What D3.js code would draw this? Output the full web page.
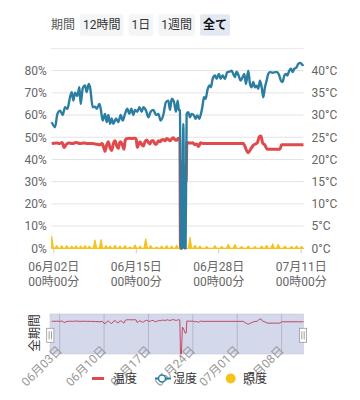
<!DOCTYPE html>
<html>
<head>
<meta charset="utf-8">
<script src="https://cdn.jsdelivr.net/npm/d3@7"></script>
<style>
body{margin:0;background:#fff;}
svg{display:block;font-family:Roboto,"Noto Sans CJK JP",sans-serif;}
</style>
</head>
<body>
<svg id="chart" width="360" height="400"></svg>
<script>
// readings, as [days since 06/02 00:00, value]
var startDate = new Date(2024, 5, 2);
var humidity = [
  [-0.26,56.8],[0.27,54.5],[0.64,60.5],[1.06,62],[1.48,60],[1.84,63.5],[2.21,62.8],[2.63,68],[2.90,70.3],
  [3.16,66.5],[3.42,70],[3.79,68.6],[4.10,72.5],[4.31,65],[4.63,72],[5.00,73.3],[5.26,70.3],[5.58,74],
  [5.79,72.5],[6.21,63.5],[6.57,63.8],[6.84,62.8],[7.26,65],[7.47,62.8],[7.78,57.5],[8.15,60.5],[8.41,56.8],
  [8.67,60],[8.94,56],[9.20,58.5],[9.46,56],[9.88,58.5],[10.25,56.8],[10.62,60],[10.93,57.5],[11.30,60.5],
  [11.67,62.8],[11.98,60.5],[12.30,62.8],[12.62,60],[12.88,62.3],[13.25,61.5],[13.56,63.5],[13.93,61.5],
  [14.19,63.5],[14.61,62],[14.98,59],[15.35,61.5],[15.77,62.3],[16.19,60],[16.56,60.5],[16.92,57.5],
  [17.34,60],[17.76,65.8],[18.13,66.5],[18.40,62.3],[18.66,67.3],[19.03,65.8],[19.34,61.5],[19.60,66.5],
  [19.81,62.3],[19.97,62],
  [20.10,0],[20.35,0],[20.50,56],[20.65,0],[20.85,0],[21.02,60.5],
  [21.28,61.3],[21.55,59],[21.81,60.5],[22.18,59.8],[22.44,58.3],[22.70,59.8],[23.02,58.3],[23.23,60],
  [23.54,64.3],[23.75,68],[24.02,67.3],[24.28,71],[24.60,73.3],[24.86,72.5],[25.12,76.3],[25.49,77.8],
  [25.75,76.3],[26.12,78.5],[26.38,76.3],[26.70,77.8],[27.06,76.3],[27.43,79.3],[27.75,79.5],[28.12,80],
  [28.38,78.5],[28.64,77.1],[28.90,79.5],[29.22,77.8],[29.53,75.5],[29.85,77.1],[30.11,78.5],[30.37,74],
  [30.74,80],[31.01,74],[31.27,72.5],[31.53,74.9],[31.79,72.5],[32.06,73.2],[32.32,71.8],[32.58,75.5],
  [32.85,72.5],[33.11,68],[33.37,72.5],[33.63,75.5],[33.89,78.5],[34.16,79.3],[34.58,79],[34.95,79.3],
  [35.31,79.3],[35.63,77.8],[35.89,75.5],[36.16,74.9],[36.42,77.8],[36.68,78.5],[36.89,77.8],[37.21,80],
  [37.47,80.8],[37.73,79.3],[37.99,80.8],[38.36,81.5],[38.62,83],[38.98,83.5],[39.30,82.5],[39.45,82.8]
];
var temperature = [
  [-0.26,23.6],[0.5,23.7],[1.0,23.6],[1.4,23.8],[1.7,22.7],[2.0,23.3],[2.4,23.7],[3.0,23.6],[3.6,23.8],
  [4.2,23.6],[4.8,23.7],[5.4,23.6],[6.0,23.6],[6.6,23.5],[7.36,23.3],[7.7,23.6],[8.0,22.4],[8.15,21.8],
  [8.4,23.2],[8.67,24],[8.95,22.6],[9.2,22],[9.45,23.5],[9.73,24.2],[10.0,23],[10.25,22.5],[10.45,23.8],
  [10.62,24],[10.9,23.2],[11.14,22.3],[11.35,24.4],[11.57,24.7],[12.0,24.8],[12.36,24.7],[12.8,24.8],
  [13.05,24.6],[13.24,22.7],[13.45,23.5],[13.67,24],[13.95,23.3],[14.19,23],[14.45,24],[14.72,24.4],
  [15.0,23.8],[15.24,23.5],[15.5,24.2],[15.76,24.2],[16.05,23.4],[16.3,23.5],[16.55,24.2],[16.82,24],
  [17.1,24.4],[17.34,24.5],[17.6,24.2],[17.88,24.7],[18.15,24.5],[18.4,24.2],[18.65,24.6],[18.92,24.9],
  [19.2,24.4],[19.45,24.3],[19.7,24.8],[19.95,24.6],
  [20.05,0],[20.2,0],[20.35,19.5],[20.55,18],[20.8,15],[20.95,15.2],[21.05,23.8],
  [21.5,23.7],[22.0,23.75],[22.3,23.3],[22.6,23.5],[22.9,22.9],[23.2,23.75],[23.6,23.6],[25,23.6],
  [26.5,23.6],[28,23.6],[29.95,23.6],[30.48,22.0],[30.74,21.5],[31.11,22.3],[31.53,23.2],[32.16,23.75],
  [32.48,25.1],[32.74,25.3],[33.0,23.75],[33.37,23.2],[33.74,22.3],[34.5,22.3],[35.73,22.3],[35.99,23.3],
  [37.0,23.3],[38.5,23.3],[39.45,23.3]
];
var illumPeaks = [
  [-0.26,5.3],[0.53,1.2],[1.32,1.1],[2.11,1.2],[2.90,1.0],[3.58,1.1],[4.31,1.0],[5.00,1.2],[5.68,1.0],
  [6.57,3.7],[7.52,3.9],[8.31,1.2],[8.94,1.0],[9.73,1.3],[10.51,1.0],[11.30,1.2],[12.09,0.6],[12.88,1.5],
  [13.67,1.0],[14.56,4.2],[15.35,1.2],[16.29,0.6],[17.08,1.0],[17.87,1.2],[18.66,1.0],[19.45,1.3],
  [20.39,1.5],[21.55,4.9],[22.34,1.4],[23.12,1.0],[24.18,0.8],[25.49,1.2],[26.54,0.9],[27.59,1.8],
  [28.64,1.7],[29.69,0.8],[30.74,1.0],[31.79,0.8],[32.85,1.0],[33.63,1.3],[34.58,2.0],[35.47,1.7],
  [36.52,1.0],[37.57,0.8],[38.36,1.0],[39.15,0.8]
];
var leftTicks = [0, 10, 20, 30, 40, 50, 60, 70, 80];
var rightTicks = [0, 5, 10, 15, 20, 25, 30, 35, 40];
var xTicks = ['2024-06-02', '2024-06-15', '2024-06-28', '2024-07-11'];
var zoomTicks = ['2024-06-03', '2024-06-10', '2024-06-17', '2024-06-24', '2024-07-01', '2024-07-08'];
var periods = ['12時間', '1日', '1週間', '全て'];
var legendNames = ['温度', '湿度', '照度'];
var colors = {temp: '#e04a4c', hum: '#2c7ea1', lux: '#f6c21c'};

var svg = d3.select('#chart');
var parse = d3.timeParse('%Y-%m-%d');
var day = function(d){ return new Date(startDate.getTime() + d * 864e5); };
var ext = d3.extent(humidity, function(d){ return d[0]; });
var L = 51.7, R = 303.5, B = 248.3, T = 70.6;

var x = d3.scaleTime().domain([day(ext[0]), day(ext[1])]).range([L, R]);
var yL = d3.scaleLinear().domain([0, 80]).range([B, T]);
var yR = d3.scaleLinear().domain([0, 40]).range([B, T]);

// period buttons
svg.append('text').attr('x', 51).attr('y', 25).attr('dy', '.35em')
  .attr('font-size', 12).attr('fill', '#555').text('期間');
var bx = 80;
periods.forEach(function(p, i){
  var active = i === periods.length - 1;
  var g = svg.append('g');
  var r = g.append('rect').attr('y', 14.3).attr('height', 21.4).attr('rx', 2)
    .attr('fill', active ? '#e3e9f3' : '#f4f5f7');
  var t = g.append('text').attr('y', 25).attr('dy', '.35em').attr('font-size', 12)
    .attr('font-weight', active ? 'bold' : 'normal').attr('fill', active ? '#111' : '#333').text(p);
  var w = t.node().getComputedTextLength();
  r.attr('x', bx).attr('width', w + 6);
  t.attr('x', bx + 3);
  bx += w + 6 + 5;
});
svg.append('line').attr('x1', 50.7).attr('x2', R).attr('y1', 48.7).attr('y2', 48.7)
  .attr('stroke', '#e8e8e8');

// grid
svg.append('g').selectAll('line').data(leftTicks).enter().append('line')
  .attr('x1', L).attr('x2', R)
  .attr('y1', function(d){ return yL(d); }).attr('y2', function(d){ return yL(d); })
  .attr('stroke', '#e3e3e3');

var gl = svg.append('g').attr('transform', 'translate(' + L + ',0)')
  .call(d3.axisLeft(yL).tickValues(leftTicks).tickSize(0).tickPadding(5)
    .tickFormat(function(d){ return d + '%'; }));
var gr = svg.append('g').attr('transform', 'translate(' + R + ',0)')
  .call(d3.axisRight(yR).tickValues(rightTicks).tickSize(0).tickPadding(8)
    .tickFormat(function(d){ return d + '°C'; }));
var gx = svg.append('g').attr('transform', 'translate(0,' + B + ')')
  .call(d3.axisBottom(x).tickValues(xTicks.map(parse)).tickSize(5));
[gl, gr, gx].forEach(function(g){
  g.select('.domain').remove();
  g.selectAll('text').attr('fill', '#666').attr('font-size', 12)
    .attr('font-family', 'Roboto,"Noto Sans CJK JP",sans-serif');
  g.selectAll('line').attr('stroke', '#ccc');
});
gx.selectAll('.tick text').each(function(d){
  var t = d3.select(this).text('').attr('y', 14).attr('dy', null);
  t.append('tspan').attr('x', 0).attr('dy', '.71em').text(d3.timeFormat('%m月%d日')(d));
  t.append('tspan').attr('x', 0).attr('dy', '1.25em').text(d3.timeFormat('%H時%M分')(d));
});

// illuminance spikes
var illum = [];
illumPeaks.forEach(function(p){
  illum.push([Math.max(p[0] - 0.27, ext[0]), 0], p, [Math.min(p[0] + 0.27, ext[1]), 0]);
});
illum.push([ext[1], 0]);
svg.append('path').datum(illum)
  .attr('d', d3.area().x(function(d){ return x(day(d[0])); }).y0(B).y1(function(d){ return yL(d[1]); }))
  .attr('fill', colors.lux).attr('stroke', colors.lux).attr('stroke-width', 1.2)
  .attr('stroke-linejoin', 'round');

var lineT = d3.line().curve(d3.curveMonotoneX)
  .x(function(d){ return x(day(d[0])); }).y(function(d){ return yR(d[1]); });
var lineH = d3.line().curve(d3.curveMonotoneX)
  .x(function(d){ return x(day(d[0])); }).y(function(d){ return yL(d[1]); });
svg.append('path').datum(temperature).attr('d', lineT).attr('fill', 'none')
  .attr('stroke', colors.temp).attr('stroke-width', 3).attr('stroke-linejoin', 'round');
svg.append('path').datum(humidity).attr('d', lineH).attr('fill', 'none')
  .attr('stroke', colors.hum).attr('stroke-width', 2.4).attr('stroke-linejoin', 'round');

// zoom slider
var sT = 314, sB = 354;
var ys = d3.scaleLinear().domain([0, d3.max(temperature, function(d){ return d[1]; })]).range([sB, 319]);
svg.append('rect').attr('x', 50).attr('y', sT).attr('width', R - 50).attr('height', sB - sT)
  .attr('fill', '#d4d8eb').attr('stroke', '#c6cadc').attr('stroke-width', 0.6);
svg.append('g').selectAll('line').data(zoomTicks.map(parse)).enter().append('line')
  .attr('x1', function(d){ return x(d); }).attr('x2', function(d){ return x(d); })
  .attr('y1', sT).attr('y2', sB).attr('stroke', '#b3b7ca');
svg.append('path').datum(temperature)
  .attr('d', d3.line().x(function(d){ return x(day(d[0])); }).y(function(d){ return ys(d[1]); }))
  .attr('fill', 'none').attr('stroke', '#c04a66').attr('stroke-width', 1);
[50.3, 303].forEach(function(hx){
  var g = svg.append('g').attr('transform', 'translate(' + hx + ',335.3)');
  g.append('rect').attr('x', -3.6).attr('y', -7).attr('width', 7.2).attr('height', 14)
    .attr('fill', '#fff').attr('stroke', '#999').attr('stroke-width', 0.8);
  [-1.2, 1.2].forEach(function(dx){
    g.append('line').attr('x1', dx).attr('x2', dx).attr('y1', -4).attr('y2', 4)
      .attr('stroke', '#888').attr('stroke-width', 0.8);
  });
});
svg.append('g').selectAll('text').data(zoomTicks.map(parse)).enter().append('text')
  .attr('transform', function(d){ return 'translate(' + x(d) + ',348) rotate(-45)'; })
  .attr('text-anchor', 'end').attr('dy', '.35em').attr('font-size', 12).attr('fill', '#999')
  .text(d3.timeFormat('%m月%d日'));
svg.append('text').attr('transform', 'translate(35,333) rotate(-90)')
  .attr('text-anchor', 'middle').attr('dy', '.35em').attr('font-size', 12.5).attr('fill', '#333')
  .text('全期間');

// legend
var ly = 378.5;
var lg = svg.append('g');
lg.append('line').attr('x1', 92).attr('x2', 104).attr('y1', ly).attr('y2', ly)
  .attr('stroke', colors.temp).attr('stroke-width', 3);
lg.append('line').attr('x1', 155).attr('x2', 171).attr('y1', ly).attr('y2', ly)
  .attr('stroke', colors.hum).attr('stroke-width', 2);
lg.append('circle').attr('cx', 162).attr('cy', ly).attr('r', 3.5)
  .attr('fill', '#fff').attr('stroke', colors.hum).attr('stroke-width', 1.5);
lg.append('circle').attr('cx', 230.7).attr('cy', ly).attr('r', 5).attr('fill', colors.lux);
lg.selectAll('text').data(legendNames).enter().append('text')
  .attr('x', function(d, i){ return [113, 173, 243][i]; }).attr('y', ly).attr('dy', '.35em')
  .attr('font-size', 12).attr('fill', '#333').text(function(d){ return d; });
</script>
</body>
</html>
